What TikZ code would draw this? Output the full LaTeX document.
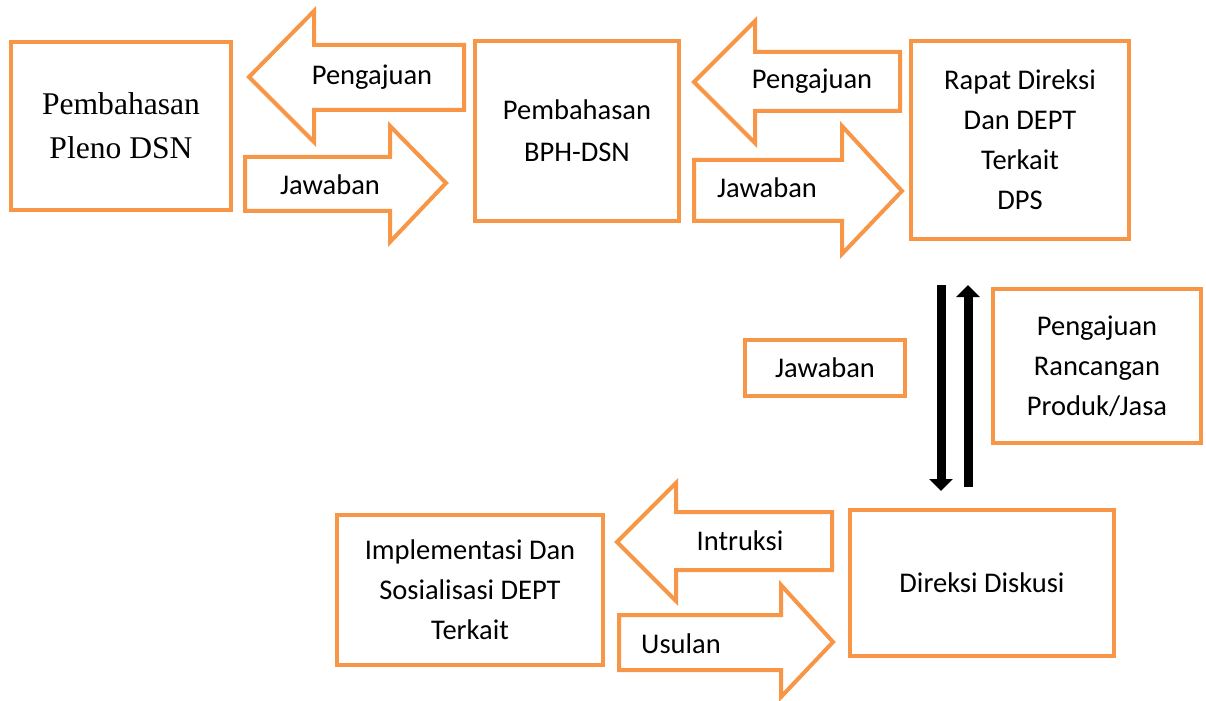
\documentclass[tikz,border=0pt]{standalone}
\usepackage{fontspec}
\setmainfont{Carlito}
\newfontfamily\timesfam{Liberation Serif}
\usetikzlibrary{arrows.meta}
\definecolor{org}{HTML}{F79646}
\newcommand\calfont{\fontsize{14.25pt}{20pt}\selectfont}
\newcommand\tmsfont{\timesfam\fontsize{15.8pt}{22pt}\selectfont}
\begin{document}
\begin{tikzpicture}[x=0.5pt,y=-0.5pt,
  box/.style={draw=org, line width=2pt, rectangle, inner sep=0pt, align=center, font=\calfont},
  blockarrow/.style={draw=org, line width=2pt, fill=white, line join=miter},
  lbl/.style={inner sep=0pt, font=\calfont, anchor=base},
  blackarrow/.style={draw=black, line width=4.5pt, -{Triangle[length=6pt,width=11.5pt]}}]
\useasboundingbox (0,0) rectangle (1206,701);

% boxes
\node[box, font=\tmsfont, minimum width=110pt, minimum height=84pt] (pleno) at (121,126) {Pembahasan\\Pleno DSN};
\node[box, minimum width=102pt, minimum height=90pt] (bph) at (577,131) {Pembahasan\\[1pt]BPH-DSN};
\node[box, minimum width=109pt, minimum height=99pt] (rapat) at (1020,140) {Rapat Direksi\\Dan DEPT\\Terkait\\DPS};
\node[box, minimum width=80pt, minimum height=28pt] (jaw) at (825,368) {Jawaban};
\node[box, minimum width=104pt, minimum height=77pt] (rancang) at (1097,366) {Pengajuan\\Rancangan\\Produk/Jasa};
\node[box, minimum width=133pt, minimum height=75pt] (impl) at (470,590) {Implementasi Dan\\Sosialisasi DEPT\\Terkait};
\node[box, minimum width=132pt, minimum height=73pt] (disk) at (982,583) {Direksi Diskusi};

% block arrows
\draw[blockarrow] (249,77) -- (314,11) -- (314,45) -- (464,45) -- (464,110) -- (314,110) -- (314,142) -- cycle;
\node[lbl] (p1) at (372,85) {Pengajuan};
\draw[blockarrow] (245,157) -- (390,157) -- (390,126) -- (446,183) -- (390,242) -- (390,211) -- (245,211) -- cycle;
\node[lbl] (j1) at (330,195) {Jawaban};
\draw[blockarrow] (694,82) -- (755,21) -- (755,52) -- (900,52) -- (900,111) -- (755,111) -- (755,143) -- cycle;
\node[lbl] (p2) at (812,89) {Pengajuan};
\draw[blockarrow] (694,160) -- (842,160) -- (842,126) -- (902,191) -- (842,254) -- (842,221) -- (694,221) -- cycle;
\node[lbl] (j2) at (767,198) {Jawaban};
\draw[blockarrow] (617,542) -- (676,483) -- (676,512) -- (832,512) -- (832,570) -- (676,570) -- (676,601) -- cycle;
\node[lbl] (intr) at (740,550) {Intruksi};
\draw[blockarrow] (619,615) -- (781,615) -- (781,585) -- (833,642) -- (781,697) -- (781,670) -- (619,670) -- cycle;
\node[lbl] (usul) at (681,653) {Usulan};

% black arrows
\coordinate (dtop) at (941,285);
\coordinate (dbot) at (941,491);
\coordinate (ubot) at (968,487);
\coordinate (utop) at (968,285);
\draw[blackarrow] (dtop) -- (dbot);
\draw[blackarrow] (ubot) -- (utop);
\end{tikzpicture}
\end{document}
